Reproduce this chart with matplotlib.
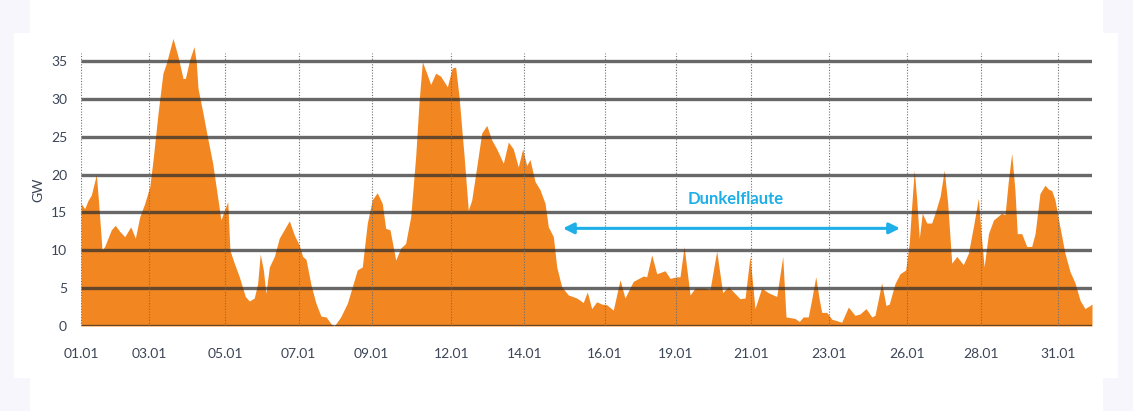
import matplotlib
matplotlib.use("Agg")
import matplotlib.pyplot as plt
from matplotlib.patches import Rectangle

# ---- data (x in hours from the start of the axis, y in GW) ----
hours = [0, 2.7, 5.2, 7.6, 11.3, 13.0, 15.5, 17.4, 22.3, 25.2, 28.5, 32.2, 36.6, 40.0,
         43.2, 46.9, 50.6, 53.0, 56.7, 60.3, 62.8, 67.7, 71.4, 75.1, 76.8, 80.0, 83.2,
         84.9, 86.1, 89.8, 92.7, 96.9, 103.0, 105.5, 108.0, 109.6, 112.8, 116.5, 120.9,
         123.9, 127.5, 130.0, 131.9, 134.2, 136.1, 138.6, 142.3, 145.9, 153.3, 157.0,
         160.6, 163.1, 165.6, 169.3, 172.9, 176.6, 180.3, 184.0, 186.4, 191.1, 196.0,
         199.7, 203.3, 207.0, 210.7, 214.4, 218.0, 221.7, 224.2, 227.4, 231.6, 235.3,
         238.9, 242.6, 246.3, 248.7, 251.2, 254.4, 257.3, 261.0, 264.7, 269.6, 273.2,
         275.7, 278.2, 281.9, 285.0, 287.5, 291.2, 294.9, 298.6, 302.2, 305.9, 310.8,
         314.5, 318.1, 321.8, 325.0, 328.0, 330.4, 334.1, 337.8, 341.5, 343.9, 347.6,
         350.1, 353.7, 358.6, 364.8, 369.6, 372.6, 375.8, 379.5, 383.2, 386.9, 391.7,
         396.7, 400.3, 406.4, 413.8, 416.3, 420.0, 423.7, 429.8, 433.5, 438.4, 440.8,
         443.8, 448.2, 451.9, 459.2, 462.9, 467.8, 472.2, 476.4, 485.0, 488.7, 492.3,
         496.0, 500.9, 505.8, 512.0, 516.4, 518.8, 525.4, 528.6, 531.5, 535.2, 537.7,
         540.7, 543.3, 545.1, 548.8, 552.5, 559.8, 564.7, 569.6, 573.3, 577.7, 581.9,
         584.3, 589.2, 592.4, 594.8, 599.0, 602.7, 606.9, 609.5, 611.3, 613.2, 615.0,
         616.9, 619.1, 622.4, 626.0, 628.5, 632.2, 635.3, 637.8, 640.8, 644.5, 649.3,
         653.0, 656.7, 660.4, 662.4, 664.6, 667.8, 671.5, 677.5, 680.0, 682.4, 684.9,
         687.3, 689.0, 692.3, 696.0, 699.6, 702.1, 705.7, 709.4, 711.8, 714.3, 716.7,
         720.4, 724.1, 727.8, 731.5, 735.2, 738.8, 742.5, 744.0]
gw = [16.2, 15.5, 16.6, 17.3, 20.0, 16.2, 10.0, 10.5, 12.7, 13.3, 12.5, 11.8, 13.1, 11.6,
      14.4, 16.2, 18.4, 21.9, 28.1, 33.4, 34.7, 38.0, 35.6, 32.7, 32.7, 35.2, 36.9,
      34.7, 31.4, 28.1, 25.3, 21.5, 14.0, 15.3, 16.4, 10.0, 8.3, 6.5, 3.9,
      3.3, 3.7, 5.6, 9.5, 7.4, 4.3, 7.8, 9.2, 11.6, 13.9, 12.0,
      10.7, 9.2, 8.8, 5.4, 3.0, 1.3, 1.2, 0.3, 0.0, 1.2, 3.0,
      5.2, 7.4, 7.8, 13.6, 16.7, 17.6, 16.2, 12.9, 12.7, 8.7, 10.3,
      10.9, 14.4, 22.4, 29.4, 34.9, 33.4, 31.9, 33.4, 33.0, 31.6, 34.1,
      34.2, 30.3, 22.5, 15.3, 16.6, 21.0, 25.5, 26.5, 24.6, 23.4, 21.5,
      24.3, 23.4, 21.0, 23.4, 21.2, 22.0, 19.1, 18.0, 16.2, 13.1, 11.8,
      7.8, 5.2, 4.1, 3.7, 3.1, 4.5, 2.3, 3.2, 2.9, 2.8, 2.1,
      6.1, 3.7, 5.9, 6.6, 6.5, 9.4, 6.9, 7.3, 6.3, 6.5, 6.5,
      10.5, 4.1, 5.0, 5.0, 4.8, 9.9, 4.4, 5.2, 3.6, 3.7, 9.2,
      2.3, 5.0, 4.4, 3.9, 9.2, 1.2, 1.0, 0.6, 1.2, 1.2, 3.5,
      6.5, 3.5, 1.8, 1.8, 0.9, 0.5, 2.5, 1.4, 1.6, 2.3, 1.2,
      1.4, 5.7, 2.7, 2.9, 5.6, 6.9, 7.4, 10.9, 15.8, 20.6, 16.7,
      11.6, 14.9, 13.6, 13.6, 14.9, 17.1, 20.6, 16.2, 8.3, 9.2, 8.1,
      9.6, 13.1, 16.9, 12.2, 7.8, 12.2, 14.0, 14.9, 14.7, 19.1, 22.8,
      17.9, 12.2, 12.2, 10.5, 10.5, 12.2, 17.5, 18.6, 18.1, 17.9, 16.7,
      13.1, 9.6, 7.2, 5.7, 3.4, 2.3, 2.7, 2.9]

tick_hours = [0, 50.0, 106.0, 160.2, 213.9, 272.5, 326.2, 385.6, 437.9, 493.3,
              550.2, 607.9, 662.5, 719.0]
tick_labels = ["01.01", "03.01", "05.01", "07.01", "09.01", "12.01", "14.01",
               "16.01", "19.01", "21.01", "23.01", "26.01", "28.01", "31.01"]
y_ticks = [0, 5, 10, 15, 20, 25, 30, 35]

flaute_start, flaute_end, flaute_level = 354.7, 602.7, 12.9
flaute_label = "Dunkelflaute"

# ---- styling ----
ORANGE = "#F28620"
BLUE = "#1EAEE8"
TXT = "#3B4556"
LAV = "#F7F6FD"
plt.rcParams['font.family'] = ['Lato', 'DejaVu Sans']

fig = plt.figure(figsize=(11.33, 4.11), dpi=100)
fig.patch.set_facecolor("white")
# faint page background at the edges
fig.patches.append(Rectangle((0, 0), 30/1133, 1, transform=fig.transFigure,
                             facecolor=LAV, edgecolor="none", zorder=-10))
fig.patches.append(Rectangle((1103/1133, 0), 30/1133, 1, transform=fig.transFigure,
                             facecolor=LAV, edgecolor="none", zorder=-10))
fig.patches.append(Rectangle((14/1133, 33/411), (1118-14)/1133, (378-33)/411,
                             transform=fig.transFigure, facecolor="white",
                             edgecolor="none", zorder=-9))

ax = fig.add_axes([81/1133, 85/411, (1092-81)/1133, (357.5-85)/411])
ax.set_facecolor("none")
ax.fill_between(hours, gw, 0, color=ORANGE, linewidth=0, zorder=2, clip_on=False)

for y in y_ticks:
    ax.axhline(y, color="#2E2E2E", alpha=0.72, lw=2.4, zorder=3, solid_capstyle="butt")
ax.vlines(tick_hours, 0, 36, colors="#6E6E6E", linestyles=(0, (1, 1.5)), lw=0.8, zorder=3)

ax.set_xlim(0, 744)
ax.set_ylim(0, 36)
ax.set_xticks(tick_hours)
ax.set_xticklabels(tick_labels)
ax.set_yticks(y_ticks)
ax.tick_params(axis="both", length=0, labelsize=10, colors=TXT)
ax.tick_params(axis="x", pad=16)
ax.tick_params(axis="y", pad=10)
for s in ax.spines.values():
    s.set_visible(False)
ax.set_ylabel("GW", fontsize=10, color=TXT, labelpad=5)

ax.annotate("", xy=(flaute_start, flaute_level), xytext=(flaute_end, flaute_level),
            arrowprops=dict(arrowstyle="<|-|>", color=BLUE, lw=2.2,
                            mutation_scale=16, shrinkA=0, shrinkB=0), zorder=5)
ax.text((flaute_start + flaute_end) / 2 + 3, 16.8, flaute_label, color=BLUE,
        fontsize=12, fontweight="bold", ha="center", va="center", zorder=5)

fig.savefig("out.png", dpi=100, facecolor=fig.get_facecolor())
